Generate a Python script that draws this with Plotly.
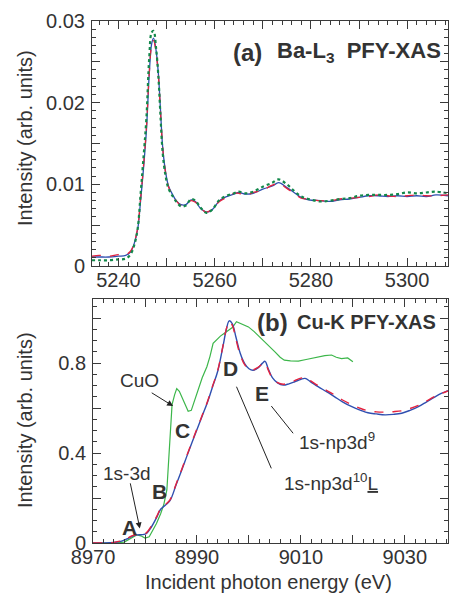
import plotly.graph_objects as go

# ---------------- Panel (a): Ba-L3 PFY-XAS ----------------
energy_a = [5234.5, 5236, 5238, 5240, 5241.5, 5242.5, 5243.3, 5244.0, 5244.6, 5245.1,
            5245.8, 5246.4, 5246.9, 5247.3, 5247.8, 5248.3, 5248.7, 5249.2, 5249.8, 5250.4,
            5251.2, 5252.0, 5253.0, 5254.0, 5255.1, 5256.0, 5257.0, 5258.3, 5259.5, 5261.0,
            5262.5, 5264.0, 5265.0, 5266.5, 5268.0, 5270.0, 5272.0, 5273.3, 5275.0, 5276.5,
            5278.0, 5279.5, 5282.0, 5284.0, 5286.0, 5288.0, 5290.0, 5292.0, 5294.0, 5296.0,
            5298.0, 5300.0, 5302.0, 5304.0, 5306.0, 5308.5]
blue_a = [0.0011, 0.0011, 0.0011, 0.0012, 0.0013, 0.0017, 0.0028, 0.0045, 0.0080, 0.0112,
          0.0165, 0.0235, 0.0272, 0.0279, 0.0265, 0.0235, 0.0195, 0.0145, 0.0115, 0.0098,
          0.0088, 0.0080, 0.0075, 0.0075, 0.0081, 0.0079, 0.0071, 0.0066, 0.0069, 0.0080,
          0.0085, 0.0088, 0.0090, 0.0088, 0.0089, 0.0094, 0.0098, 0.0102, 0.0096, 0.0090,
          0.0084, 0.0081, 0.0080, 0.0079, 0.0081, 0.0082, 0.0084, 0.0086, 0.0086, 0.0085,
          0.0086, 0.0085, 0.0086, 0.0085, 0.0087, 0.0086]
red_a = [0.0012, 0.0013, 0.0012, 0.0014, 0.0014, 0.0018, 0.0029, 0.0047, 0.0083, 0.0115,
         0.0168, 0.0236, 0.0270, 0.0276, 0.0262, 0.0233, 0.0193, 0.0144, 0.0114, 0.0097,
         0.0087, 0.0080, 0.0074, 0.0075, 0.0080, 0.0078, 0.0071, 0.0066, 0.0070, 0.0079,
         0.0084, 0.0089, 0.0089, 0.0087, 0.0090, 0.0093, 0.0099, 0.0101, 0.0095, 0.0089,
         0.0083, 0.0082, 0.0080, 0.0080, 0.0082, 0.0083, 0.0084, 0.0085, 0.0087, 0.0086,
         0.0085, 0.0086, 0.0087, 0.0086, 0.0086, 0.0087]
green_a = [0.0007, 0.0007, 0.0007, 0.0008, 0.0009, 0.0014, 0.0026, 0.0046, 0.0088, 0.0125,
           0.0180, 0.0255, 0.0286, 0.0288, 0.0268, 0.0232, 0.0188, 0.0138, 0.0110, 0.0095,
           0.0086, 0.0079, 0.0073, 0.0074, 0.0082, 0.0080, 0.0072, 0.0065, 0.0069, 0.0081,
           0.0086, 0.0089, 0.0091, 0.0089, 0.0091, 0.0097, 0.0102, 0.0106, 0.0100, 0.0092,
           0.0085, 0.0082, 0.0079, 0.0080, 0.0082, 0.0083, 0.0086, 0.0087, 0.0087, 0.0087,
           0.0088, 0.0090, 0.0089, 0.0090, 0.0091, 0.0089]

# ---------------- Panel (b): Cu-K PFY-XAS ----------------
energy_b = [8970, 8972, 8974, 8975.5, 8976.5, 8977.5, 8978.5, 8979.5, 8980.3, 8981.2,
            8982.2, 8983.0, 8984.0, 8984.8, 8986.0, 8987.0, 8988.0, 8989.0, 8990.0, 8991.0,
            8992.0, 8993.0, 8994.0, 8995.0, 8995.6, 8996.2, 8996.8, 8997.5, 8998.3, 8999.2,
            9000.0, 9000.8, 9001.8, 9002.6, 9003.1, 9003.7, 9004.5, 9005.5, 9006.6, 9007.7,
            9008.8, 9010.0, 9010.8, 9011.8, 9013.3, 9015.0, 9016.5, 9018.0, 9019.8, 9021.5,
            9022.9, 9024.5, 9026.2, 9027.8, 9029.4, 9031.0, 9032.6, 9034.2, 9035.8, 9037.0,
            9038.3]
blue_b = [0.0, 0.0, 0.002, 0.008, 0.018, 0.030, 0.036, 0.037, 0.043, 0.070,
          0.112, 0.150, 0.170, 0.188, 0.260, 0.320, 0.383, 0.445, 0.505, 0.565,
          0.625, 0.695, 0.765, 0.875, 0.945, 0.988, 0.975, 0.915, 0.845, 0.797,
          0.775, 0.768, 0.780, 0.800, 0.808, 0.775, 0.735, 0.712, 0.702, 0.708,
          0.717, 0.728, 0.732, 0.718, 0.695, 0.672, 0.650, 0.628, 0.606, 0.590,
          0.579, 0.574, 0.570, 0.572, 0.577, 0.590, 0.606, 0.628, 0.650, 0.665,
          0.678]
red_b = [0.0, 0.0, 0.003, 0.010, 0.020, 0.032, 0.038, 0.038, 0.046, 0.075,
         0.116, 0.152, 0.172, 0.192, 0.264, 0.324, 0.386, 0.448, 0.508, 0.568,
         0.628, 0.698, 0.768, 0.878, 0.948, 0.985, 0.968, 0.905, 0.838, 0.792,
         0.772, 0.770, 0.782, 0.796, 0.800, 0.770, 0.733, 0.713, 0.706, 0.712,
         0.722, 0.733, 0.736, 0.722, 0.700, 0.678, 0.658, 0.636, 0.615, 0.598,
         0.588, 0.583, 0.582, 0.584, 0.588, 0.598, 0.612, 0.632, 0.652, 0.664,
         0.676]
energy_cuo = [8970, 8974, 8976, 8977.3, 8978.4, 8979.2, 8980.0, 8980.8, 8981.5, 8982.2,
              8983.0, 8983.6, 8984.2, 8984.6, 8984.9, 8985.2, 8985.7, 8986.1, 8986.6, 8987.4,
              8988.3, 8988.9, 8989.6, 8990.3, 8991.0, 8991.9, 8992.5, 8993.1, 8993.8, 8994.5,
              8995.2, 8996.0, 8996.8, 8997.6, 8998.5, 8999.9, 9001.0, 9002.4, 9003.7, 9005.0,
              9006.0, 9006.8, 9008.0, 9009.5, 9011.0, 9012.3, 9013.3, 9014.6, 9015.9, 9016.8,
              9017.8, 9019.0, 9020.0]
cuo = [0.0, 0.0, 0.004, 0.022, 0.036, 0.032, 0.022, 0.028, 0.055, 0.087,
       0.130, 0.170, 0.236, 0.380, 0.520, 0.615, 0.660, 0.687, 0.675, 0.636,
       0.586, 0.590, 0.636, 0.690, 0.735, 0.784, 0.830, 0.888, 0.905, 0.920,
       0.932, 0.945, 0.958, 0.984, 0.975, 0.961, 0.940, 0.910, 0.878, 0.850,
       0.826, 0.813, 0.810, 0.809, 0.816, 0.823, 0.828, 0.833, 0.836, 0.826,
       0.820, 0.823, 0.806]

# tick definitions
ya_vals = [0, 0.005, 0.01, 0.015, 0.02, 0.025, 0.03]
ya_text = ["0", "", "0.01", "", "0.02", "", "0.03"]
xa_vals = [5240, 5250, 5260, 5270, 5280, 5290, 5300]
xa_text = ["5240", "", "5260", "", "5280", "", "5300"]
yb_vals = [0, 0.2, 0.4, 0.6, 0.8, 1.0]
yb_text = ["0", "", "0.4", "", "0.8", ""]
xb_vals = [8970, 8980, 8990, 9000, 9010, 9020, 9030]
xb_text = ["8970", "", "8990", "", "9010", "", "9030"]

BLUE = "#2f4fb0"
RED = "#e3223f"
GREEN_DOT = "#12884a"
GREEN = "#3cb64a"
TXT = "#333333"
AX = "#3a3a3a"
FONT = "Liberation Sans, Arial, sans-serif"

fig = go.Figure()
fig.add_trace(go.Scatter(x=energy_a, y=blue_a, mode="lines", line=dict(color=BLUE, width=1.3, shape="spline"), xaxis="x", yaxis="y"))
fig.add_trace(go.Scatter(x=energy_a, y=red_a, mode="lines", line=dict(color=RED, width=1.3, dash="dash", shape="spline"), xaxis="x", yaxis="y"))
fig.add_trace(go.Scatter(x=energy_a, y=green_a, mode="lines", line=dict(color=GREEN_DOT, width=2.2, dash="dot", shape="spline"), xaxis="x", yaxis="y"))

fig.add_trace(go.Scatter(x=energy_cuo, y=cuo, mode="lines", line=dict(color=GREEN, width=1.2), xaxis="x2", yaxis="y2"))
fig.add_trace(go.Scatter(x=energy_b, y=blue_b, mode="lines", line=dict(color=BLUE, width=1.4, shape="spline"), xaxis="x2", yaxis="y2"))
fig.add_trace(go.Scatter(x=energy_b, y=red_b, mode="lines", line=dict(color=RED, width=1.4, dash="dash", shape="spline"), xaxis="x2", yaxis="y2"))

axis_common = dict(showline=True, linecolor=AX, linewidth=1, mirror="allticks", ticks="inside",
                   ticklen=8, tickwidth=1, tickcolor=AX, showgrid=False, zeroline=False,
                   tickfont=dict(family=FONT, size=20, color=TXT))

fig.update_layout(
    width=450, height=593,
    margin=dict(l=92, r=2, t=21, b=50),
    plot_bgcolor="white", paper_bgcolor="white",
    showlegend=False,
    xaxis=dict(domain=[0, 1], anchor="y", range=[5234.5, 5308.5], tickmode="array",
               tickvals=xa_vals, ticktext=xa_text, ticklabelstandoff=-4,
               minor=dict(dtick=2, ticks="inside", ticklen=4, tickcolor=AX), **axis_common),
    yaxis=dict(domain=[0.5307, 1], anchor="x", range=[0, 0.03], tickmode="array",
               tickvals=ya_vals, ticktext=ya_text, ticklabelstandoff=2,
               minor=dict(dtick=0.001, ticks="inside", ticklen=4, tickcolor=AX), **axis_common),
    xaxis2=dict(domain=[0.003, 1], anchor="y2", range=[8970, 9038.3], tickmode="array",
                tickvals=xb_vals, ticktext=xb_text, ticklabelstandoff=-4,
                minor=dict(dtick=2, ticks="inside", ticklen=4, tickcolor=AX), **axis_common),
    yaxis2=dict(domain=[0, 0.4674], anchor="x2", range=[0, 1.085], tickmode="array",
                tickvals=yb_vals, ticktext=yb_text, ticklabelstandoff=2,
                minor=dict(dtick=0.05, ticks="inside", ticklen=4, tickcolor=AX), **axis_common),
)

ann = []
# axis titles
ann.append(dict(text="Intensity (arb. units)", xref="paper", yref="paper", x=-0.188, y=0.776,
                xanchor="center", yanchor="middle",
                textangle=-90, showarrow=False, font=dict(family=FONT, size=20, color=TXT)))
ann.append(dict(text="Intensity (arb. units)", xref="paper", yref="paper", x=-0.188, y=0.2356,
                xanchor="center", yanchor="middle",
                textangle=-90, showarrow=False, font=dict(family=FONT, size=20, color=TXT)))
ann.append(dict(text="Incident photon energy (eV)", xref="paper", yref="paper", x=0.497, y=-0.0747,
                xanchor="center", yanchor="middle",
                showarrow=False, font=dict(family=FONT, size=20, color=TXT)))
# panel labels
ann.append(dict(text="<b>(a)</b>", xref="x", yref="y", x=5266.8, y=0.0262, showarrow=False,
                font=dict(family=FONT, size=24, color=TXT)))
ann.append(dict(text="<b>Ba-L<sub>3</sub>\u00a0 PFY-XAS</b>", xref="x", yref="y", x=5272.5, y=0.0262,
                xanchor="left", showarrow=False, font=dict(family=FONT, size=22, color=TXT)))
ann.append(dict(text="<b>(b)</b>", xref="x2", yref="y2", x=9004.6, y=0.982, showarrow=False,
                font=dict(family=FONT, size=24, color=TXT)))
ann.append(dict(text="<b>Cu-K PFY-XAS</b>", xref="x2", yref="y2", x=9008.8, y=0.982,
                xanchor="left", showarrow=False, font=dict(family=FONT, size=20, color=TXT)))
# panel (b) labels
for t, x, y in [("A", 8977.0, 0.071), ("B", 8982.8, 0.227), ("C", 8987.2, 0.502),
                ("D", 8996.5, 0.778), ("E", 9002.6, 0.667)]:
    ann.append(dict(text="<b>" + t + "</b>", xref="x2", yref="y2", x=x, y=y, showarrow=False,
                    font=dict(family=FONT, size=21, color=TXT)))
ann.append(dict(text="CuO", xref="x2", yref="y2", x=8978.9, y=0.724, showarrow=False,
                font=dict(family=FONT, size=19, color=TXT)))
ann.append(dict(text="1s-3d", xref="x2", yref="y2", x=8976.5, y=0.311, showarrow=False,
                font=dict(family=FONT, size=19, color=TXT)))
ann.append(dict(text="1s-np3d<sup>9</sup>", xref="x2", yref="y2", x=9009.2, y=0.455, xanchor="left",
                showarrow=False, font=dict(family=FONT, size=19, color=TXT)))
ann.append(dict(text="1s-np3d<sup>10</sup><u>L</u>", xref="x2", yref="y2", x=9006.3, y=0.272, xanchor="left",
                showarrow=False, font=dict(family=FONT, size=19, color=TXT)))
# arrows
ann.append(dict(text="", xref="x2", yref="y2", x=8985.4, y=0.609, ax=8981.0, ay=0.672,
                axref="x2", ayref="y2", showarrow=True, arrowhead=2, arrowsize=1.2,
                arrowwidth=1, arrowcolor="#222"))
ann.append(dict(text="", xref="x2", yref="y2", x=8979.0, y=0.065, ax=8977.1, ay=0.272,
                axref="x2", ayref="y2", showarrow=True, arrowhead=2, arrowsize=1.2,
                arrowwidth=1, arrowcolor="#222"))
fig.update_layout(annotations=ann)

# leader lines
fig.add_shape(type="line", xref="x2", yref="y2", x0=8997.6, y0=0.695, x1=9004.3, y1=0.332,
              line=dict(color="#222", width=1))
fig.add_shape(type="line", xref="x2", yref="y2", x0=9004.3, y0=0.609, x1=9008.5, y1=0.488,
              line=dict(color="#222", width=1))

fig.write_html("out.html")
